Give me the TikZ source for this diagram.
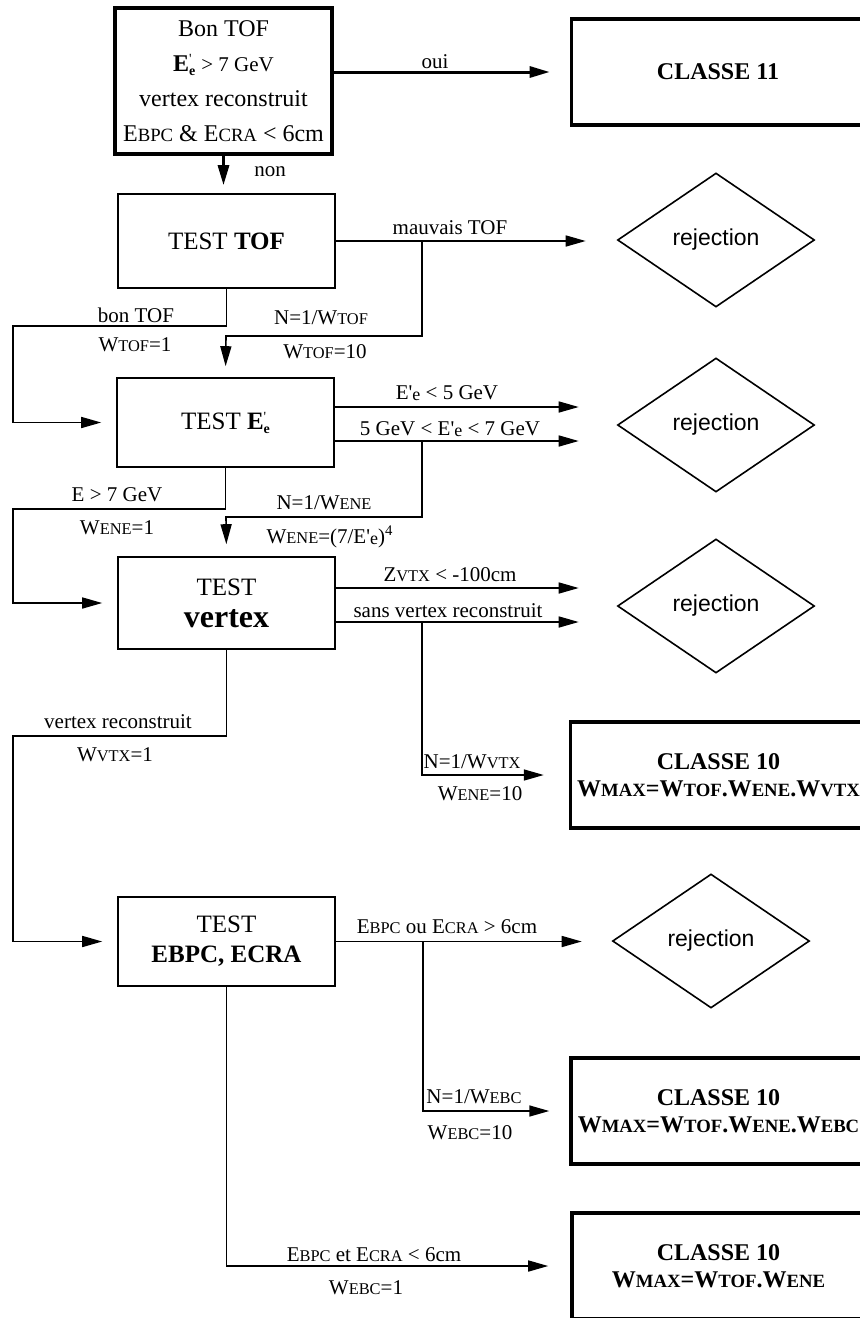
\documentclass[tikz,border=0pt]{standalone}
\usepackage{fontspec}
\usepackage{graphicx}
\setmainfont{Liberation Serif}[Ligatures=TeXOff]
\newfontfamily\rejfont{Liberation Sans}
\usetikzlibrary{arrows.meta,shapes.geometric}

% petites capitales simulees
\newcommand{\petit}[1]{\scalebox{0.78}{#1}}
\newcommand{\Ee}{\textbf{E}\rlap{\raisebox{.7ex}{\scriptsize '}}\raisebox{-.35ex}{\scriptsize\textbf{e}}}
\newcommand{\Epe}{E'\raisebox{-.1ex}{\small e}}

\tikzset{
  fleche/.style={-{Triangle[length=10pt,width=5.5pt]}},
  lien/.style={line width=0.8pt},
  gros/.style={line width=1.5pt},
  testbox/.style={draw, line width=0.8pt, minimum width=108.5pt, align=center,
    font=\fontsize{12.5}{15}\selectfont},
  classbox/.style={draw, line width=1.8pt, minimum width=146.5pt, minimum height=53pt,
    align=center, font=\bfseries\fontsize{12}{13.5}\selectfont},
  rejet/.style={diamond, draw, line width=0.8pt, minimum width=98.5pt, minimum height=67pt,
    inner sep=0pt, font=\rejfont\fontsize{11.5}{13}\selectfont},
  etiq/.style={inner sep=1pt, font=\fontsize{10.5}{12}\selectfont},
}

\begin{document}
\begin{tikzpicture}[x=0.5pt, y=-0.5pt]
  \useasboundingbox (0,0) rectangle (859,1318);

  % Les boites
  \node[testbox, line width=1.8pt, minimum height=73pt, inner sep=2pt, font=\fontsize{12}{17.5}\selectfont]
    (bon) at (223.5,81) {Bon TOF\\ \Ee{} {\fontsize{10.5}{12}\selectfont > 7 GeV}\\ vertex reconstruit\\
    E\petit{BPC} \& E\petit{CRA} < 6cm};
  \node[classbox] (c11) at (718,72) {CLASSE 11};

  \node[testbox, minimum height=47pt] (tof) at (226.5,241) {TEST \textbf{TOF}};
  \node[testbox, minimum height=44.5pt] (ene) at (225.5,422.5) {TEST \Ee};
  \node[testbox, minimum height=46pt] (vtx) at (226.5,603) {TEST\\[1pt] \textbf{\fontsize{16}{17}\selectfont vertex}};
  \node[testbox, minimum height=44.5pt] (ebpc) at (226.5,941.5) {TEST\\ \textbf{EBPC, ECRA}};

  \node[rejet] (rej1) at (716,240) {rejection};
  \node[rejet] (rej2) at (716,425) {rejection};
  \node[rejet] (rej3) at (716,606) {rejection};
  \node[rejet] (rej4) at (711,941) {rejection};

  \node[classbox] (cls10a) at (718.5,775) {CLASSE 10\\ W\petit{MAX}=W\petit{TOF}.W\petit{ENE}.W\petit{VTX}};
  \node[classbox] (cls10b) at (718.5,1111) {CLASSE 10\\ W\petit{MAX}=W\petit{TOF}.W\petit{ENE}.W\petit{EBC}};
  \node[classbox] (cls10c) at (718.5,1266) {CLASSE 10\\ W\petit{MAX}=W\petit{TOF}.W\petit{ENE}};

  % Les fleches
  \draw[gros, fleche, shorten >=10pt] (c11.west -| bon.east) -- (c11.west);
  \draw[gros, fleche, shorten >=4pt] (bon.south) -- (bon.south |- tof.north);
  \draw[lien, fleche, shorten >=15.5pt] (tof.east) -- (tof.east -| rej1.west);
  \draw[lien, fleche, shorten >=19pt] ([yshift=7.75pt]ene.east) -- ([yshift=7.75pt]ene.east -| rej2.west);
  \draw[lien, fleche, shorten >=19pt] ([yshift=-9.25pt]ene.east) -- ([yshift=-9.25pt]ene.east -| rej2.west);
  \draw[lien, fleche, shorten >=19pt] ([yshift=7.5pt]vtx.east) -- ([yshift=7.5pt]vtx.east -| rej3.west);
  \draw[lien, fleche, shorten >=19pt] ([yshift=-9.5pt]vtx.east) -- ([yshift=-9.5pt]vtx.east -| rej3.west);
  \draw[lien, fleche, shorten >=15pt] (ebpc.east) -- (ebpc.east -| rej4.west);

  % Les retours
  \coordinate (bTof) at (422,241);
  \coordinate (bEne) at (422,441);
  \coordinate (bVtx) at (422,622);
  \coordinate (bEbpc) at (423,941.5);
  \draw[lien, fleche, shorten >=5.5pt] (bTof) |- (226,336) -- (ene.north);
  \draw[lien, fleche, shorten >=6pt] (bEne) |- (226,517) -- (vtx.north);
  \draw[lien, fleche, shorten >=12.5pt] (bVtx) |- (cls10a.west);
  \draw[lien, fleche, shorten >=10pt] (bEbpc) |- (cls10b.west);

  \draw[lien, fleche, shorten >=7.5pt] (tof.south) |- (13,326) |- (ene.west);
  \draw[lien, fleche, shorten >=7.5pt] (ene.south) |- (13,509) |- (vtx.west);
  \draw[lien, fleche, shorten >=7.5pt] (vtx.south) |- (13,736) |- (ebpc.west);
  \draw[lien, fleche, shorten >=11pt] (ebpc.south) |- (cls10c.west);

  % Les etiquettes
  \node[etiq] (lOui) at (435,62) {oui};
  \node[etiq] (lNon) at (270,172) {non};
  \node[etiq] (lMauvais) at (450,228) {mauvais TOF};
  \node[etiq] (lBonTof) at (136,315) {bon TOF};
  \node[etiq] (lWtof1) at (135,345) {W\petit{TOF}=1};
  \node[etiq] (lNtof) at (321,318) {N=1/W\petit{TOF}};
  \node[etiq] (lWtof10) at (325,352) {W\petit{TOF}=10};
  \node[etiq] (lEinf) at (447,393) {\Epe{} < 5 GeV};
  \node[etiq] (lEmid) at (450,429) {5 GeV < \Epe{} < 7 GeV};
  \node[etiq] (lEsup) at (117,495) {E > 7 GeV};
  \node[etiq] (lWene1) at (117,528) {W\petit{ENE}=1};
  \node[etiq] (lNene) at (324,503) {N=1/W\petit{ENE}};
  \node[etiq] (lWene7) at (330,537) {W\petit{ENE}=(7/\Epe)\textsuperscript{4}};
  \node[etiq] (lZvtx) at (450,575) {Z\petit{VTX} < -100cm};
  \node[etiq] (lSans) at (448,611) {sans vertex reconstruit};
  \node[etiq] (lVtxRec) at (118,722) {vertex reconstruit};
  \node[etiq] (lWvtx1) at (115,755) {W\petit{VTX}=1};
  \node[etiq] (lNvtx) at (472,762) {N=1/W\petit{VTX}};
  \node[etiq] (lWene10) at (480,794) {W\petit{ENE}=10};
  \node[etiq] (lEbpcOu) at (447,927) {E\petit{BPC} ou E\petit{CRA} > 6cm};
  \node[etiq] (lNebc) at (474,1097) {N=1/W\petit{EBC}};
  \node[etiq] (lWebc10) at (470,1133) {W\petit{EBC}=10};
  \node[etiq] (lEbpcEt) at (374,1255) {E\petit{BPC} et E\petit{CRA} < 6cm};
  \node[etiq] (lWebc1) at (366,1288) {W\petit{EBC}=1};
\end{tikzpicture}
\end{document}
